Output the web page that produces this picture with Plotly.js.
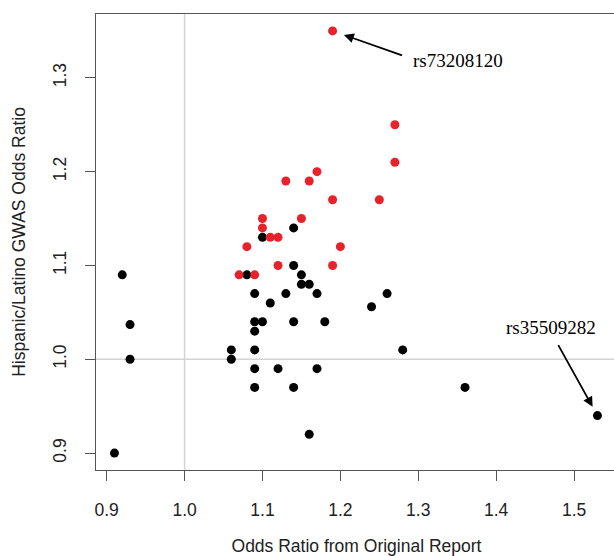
<!DOCTYPE html>
<html><head><meta charset="utf-8">
<script src="https://cdn.plot.ly/plotly-3.0.1.min.js"></script>
<style>html,body{margin:0;padding:0;overflow:hidden;background:#fff}</style>
</head><body><div id="chart"></div>
<script>
// Black points (not replicated)
const blackX = [1.14,1.10,1.14,0.92,1.08,1.15,1.15,1.16,1.09,1.13,1.17,1.26,1.11,1.24,0.93,1.09,1.10,1.14,1.18,1.09,0.93,1.06,1.06,1.09,1.28,1.09,1.12,1.17,1.09,1.14,1.36,1.53,1.16,0.91];
const blackY = [1.14,1.13,1.10,1.09,1.09,1.09,1.08,1.08,1.07,1.07,1.07,1.07,1.06,1.056,1.037,1.04,1.04,1.04,1.04,1.03,1.00,1.01,1.00,1.01,1.01,0.99,0.99,0.99,0.97,0.97,0.97,0.94,0.92,0.90];
// Red points
const redX = [1.19,1.27,1.27,1.17,1.13,1.16,1.19,1.25,1.10,1.15,1.10,1.11,1.12,1.08,1.20,1.12,1.19,1.07,1.09];
const redY = [1.35,1.25,1.21,1.20,1.19,1.19,1.17,1.17,1.15,1.15,1.14,1.13,1.13,1.12,1.12,1.10,1.10,1.09,1.09];

const xTickVals = [0.9,1.0,1.1,1.2,1.3,1.4,1.5];
const xTickText = ["0.9","1.0","1.1","1.2","1.3","1.4","1.5"];
const yTickVals = [0.9,1.0,1.1,1.2,1.3];
const yTickText = ["0.9","1.0","1.1","1.2","1.3"];

const labelTop = "rs73208120";
const labelRight = "rs35509282";
const iTop = 0;      // index in red arrays
const iRight = 31;   // index in black arrays

const sans = "Liberation Sans, Arial, sans-serif";
const tickFont = {family: sans, size: 17.5, color: "#222"};

const traces = [
  {x: blackX, y: blackY, type: "scatter", mode: "markers",
   marker: {color: "#000000", size: 9}, hoverinfo: "skip"},
  {x: redX, y: redY, type: "scatter", mode: "markers",
   marker: {color: "#e8222a", size: 9}, hoverinfo: "skip"}
];

const layout = {
  width: 617, height: 556,
  margin: {l: 96, r: 0, t: 14, b: 86},
  paper_bgcolor: "#ffffff", plot_bgcolor: "#ffffff",
  showlegend: false,
  xaxis: {
    range: [0.8863, 1.5551], tickvals: xTickVals, ticktext: xTickText,
    ticks: "outside", ticklen: 10, tickwidth: 1, tickcolor: "#555",
    showline: true, linecolor: "#555", linewidth: 1.3, mirror: true,
    showgrid: false, zeroline: false, tickfont: tickFont,
    ticklabelstandoff: 14,
    title: {text: "Odds Ratio from Original Report", font: {family: sans, size: 17.5, color: "#222"}, standoff: 25}
  },
  yaxis: {
    range: [0.882, 1.368], tickvals: yTickVals, ticktext: yTickText,
    ticks: "outside", ticklen: 10, tickwidth: 1, tickcolor: "#555",
    showline: true, linecolor: "#555", linewidth: 1.3, mirror: true,
    showgrid: false, zeroline: false, tickfont: tickFont, tickangle: -90,
    ticklabelstandoff: 12,
    title: {text: "Hispanic/Latino GWAS Odds Ratio", font: {family: sans, size: 17.5, color: "#222"}, standoff: 19}
  },
  shapes: [
    {type: "line", xref: "x", yref: "paper", x0: 1.0, x1: 1.0, y0: 0, y1: 1, layer: "below",
     line: {color: "#d3d3d3", width: 1.5}},
    {type: "line", xref: "paper", yref: "y", x0: 0, x1: 1, y0: 1.0, y1: 1.0, layer: "below",
     line: {color: "#d3d3d3", width: 1.5}}
  ],
  annotations: [
    {x: redX[iTop], y: redY[iTop], xref: "x", yref: "y", text: "", showarrow: true,
     ax: 71, ay: 25, standoff: 12, arrowhead: 2, arrowsize: 1.1, arrowwidth: 1.8, arrowcolor: "#000"},
    {x: blackX[iRight], y: blackY[iRight], xref: "x", yref: "y", text: "", showarrow: true,
     ax: -40, ay: -72, standoff: 10, arrowhead: 2, arrowsize: 1.1, arrowwidth: 1.8, arrowcolor: "#000"},
    {x: 1.3516, y: 1.3184, xref: "x", yref: "y", text: labelTop, showarrow: false,
     xanchor: "center", yanchor: "middle",
     font: {family: "Liberation Serif, Times New Roman, serif", size: 19, color: "#000"}},
    {x: 1.470, y: 1.0335, xref: "x", yref: "y", text: labelRight, showarrow: false,
     xanchor: "center", yanchor: "middle",
     font: {family: "Liberation Serif, Times New Roman, serif", size: 19, color: "#000"}}
  ]
};

Plotly.newPlot("chart", traces, layout, {displayModeBar: false, staticPlot: true});
</script>
</body></html>
